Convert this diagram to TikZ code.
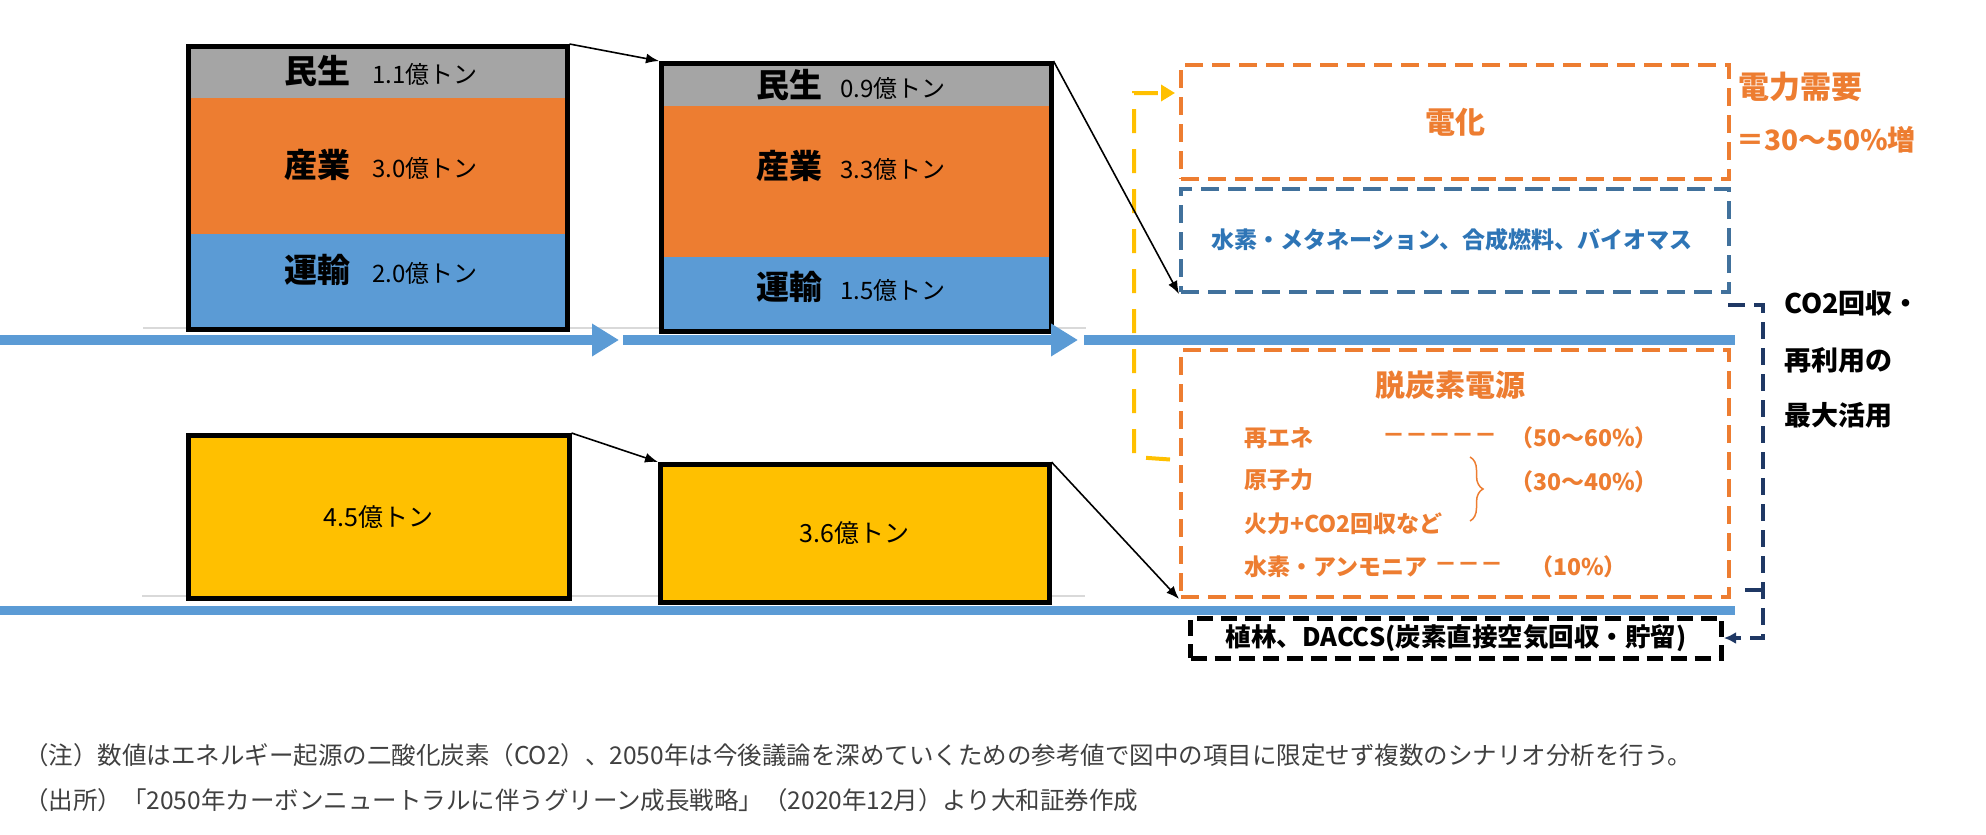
\documentclass[tikz,border=0pt]{standalone}
\usepackage{fontspec}
\setmainfont{Noto Sans CJK JP}
\usetikzlibrary{arrows.meta,calc,decorations.pathreplacing}

\definecolor{civil}{RGB}{165,165,165}
\definecolor{industry}{RGB}{237,125,49}
\definecolor{transport}{RGB}{91,155,213}
\definecolor{power}{RGB}{255,192,0}
\definecolor{fuelline}{RGB}{65,113,156}
\definecolor{fueltext}{RGB}{46,117,182}
\definecolor{navy}{RGB}{31,56,100}
\definecolor{rule}{RGB}{217,217,217}
\definecolor{note}{RGB}{64,64,64}

\begin{document}
\begin{tikzpicture}[x=1pt, y=-1pt, line width=1.6pt,
    >={Latex[length=13pt,width=10pt]},
    frame/.style={draw, line width=4.5pt, inner sep=0pt, anchor=north west},
    sector/.style={font=\fontsize{33}{36}\selectfont\bfseries},
    amount/.style={font=\fontsize{25}{28}\selectfont},
    flow/.style={transport, line width=10pt, -{Triangle[length=27pt,width=31pt]}},
    target/.style={draw, line width=4pt, dash pattern=on 18pt off 9pt, inner sep=0pt},
    orangetext/.style={industry, font=\fontsize{23}{26}\selectfont\bfseries, anchor=west},
    sidetext/.style={font=\fontsize{27}{30}\selectfont\bfseries, anchor=west},
    notetext/.style={note, font=\fontsize{24.5}{28}\selectfont, anchor=west}]
    \useasboundingbox (0,0) rectangle (1986,835);

    % base lines under the bars
    \draw[rule, line width=2pt] (143,328)--(1086,328);
    \draw[rule, line width=2pt] (142,596)--(1085,596);

    % 2013 / 2018 bars, upper row
    \fill[civil] (186,44) rectangle (565,98);
    \fill[industry] (186,98) rectangle (565,234);
    \fill[transport] (186,234) rectangle (565,327);
    \node[frame, minimum width=379pt, minimum height=283pt] (now) at (186,44) {};
    \node[sector] at (381,71) {民生\hspace{22pt}{\mdseries\fontsize{24}{28}\selectfont 1.1億トン}};
    \node[sector] at (381,165) {産業\hspace{22pt}{\mdseries\fontsize{24}{28}\selectfont 3.0億トン}};
    \node[sector] at (381,270) {運輸\hspace{22pt}{\mdseries\fontsize{24}{28}\selectfont 2.0億トン}};

    \fill[civil] (659,61) rectangle (1049,106);
    \fill[industry] (659,106) rectangle (1049,257);
    \fill[transport] (659,257) rectangle (1049,329);
    \node[frame, minimum width=390pt, minimum height=268pt] (later) at (659,61) {};
    \node[sector] at (851,85) {民生\hspace{18pt}{\mdseries\fontsize{24}{28}\selectfont 0.9億トン}};
    \node[sector] at (851,166) {産業\hspace{18pt}{\mdseries\fontsize{24}{28}\selectfont 3.3億トン}};
    \node[sector] at (851,287) {運輸\hspace{18pt}{\mdseries\fontsize{24}{28}\selectfont 1.5億トン}};

    % power sector, lower row
    \node[frame, fill=power, minimum width=381pt, minimum height=163pt] (powernow) at (186,433) {};
    \node[amount] at (powernow.center) {4.5億トン};
    \node[frame, fill=power, minimum width=389pt, minimum height=138pt] (powerlater) at (658,462) {};
    \node[amount] at (powerlater.center) {3.6億トン};

    % 2050 measures
    \node[target, industry, minimum width=548pt, minimum height=114pt, anchor=north west] (denka) at (1179,63) {};
    \node[industry, font=\fontsize{30}{34}\selectfont\bfseries] at (denka.center) {電化};
    \node[target, fuelline, minimum width=548pt, minimum height=103pt, anchor=north west] (fuels) at (1179,187) {};
    \node[fueltext, font=\fontsize{23}{26}\selectfont\bfseries] at (1452,240) {水素・メタネーション、合成燃料、バイオマス};
    \node[target, industry, minimum width=548pt, minimum height=247pt, anchor=north west] (cleanpower) at (1179,348) {};
    \node[industry, font=\fontsize{30}{34}\selectfont\bfseries] at (1450,385) {脱炭素電源};
    \node[orangetext] at (1240,438) {再エネ};
    \node[orangetext] at (1378,438) {－－－－－};
    \node[orangetext] at (1506,438) {（50〜60\%）};
    \node[orangetext] at (1240,480) {原子力};
    \node[orangetext] at (1506,482) {（30〜40\%）};
    \node[orangetext] at (1240,524) {火力+CO2回収など};
    \node[orangetext] at (1240,567) {水素・アンモニア};
    \node[orangetext] at (1430,567) {－－－};
    \node[orangetext] at (1526,567) {（10\%）};
    \draw[industry, line width=1.5pt, decorate, decoration={brace, amplitude=13pt}] (1470,457)--(1470,521);
    \node[draw, line width=5pt, dash pattern=on 16pt off 8pt, minimum width=531pt, minimum height=40pt,
        font=\fontsize{25.5}{28}\selectfont\bfseries] (removal) at (1456,638) {植林、DACCS(炭素直接空気回収・貯留)};

    \node[industry, font=\fontsize{31}{34}\selectfont\bfseries, anchor=west] at (1734,87) {電力需要};
    \node[industry, font=\fontsize{28}{32}\selectfont\bfseries, anchor=west] at (1732,140) {＝30〜50\%増};
    \node[sidetext] at (1780,303) {CO2回収・};
    \node[sidetext] at (1780,360) {再利用の};
    \node[sidetext] at (1780,415) {最大活用};

    % yellow feed into electrification
    \draw[power, line width=4pt, dash pattern=on 24pt off 16pt, -{Triangle[length=14pt,width=16pt]}]
        ($(cleanpower.west)+(-9,-14)$) -- (1134,457) |- ($(denka.north west)+(-4,30)$);

    % time axis
    \coordinate (t0) at (0,340);
    \coordinate (t1) at (619,340);
    \coordinate (t2) at (623,340);
    \coordinate (t3) at (1078,340);
    \coordinate (t4) at (1084,340);
    \coordinate (t5) at (1735,340);
    \draw[flow] (t0)--(t1);
    \draw[flow] (t2)--(t3);
    \draw[transport, line width=10pt] (t4)--(t5);
    \draw[transport, line width=9pt] (0,610)--(1735,610);

    % arrows between the bars
    \draw[->] (now.north east)--(later.north west);
    \draw[->] (later.north east)--(fuels.south west);
    \draw[->] (powernow.north east)--(powerlater.north west);
    \draw[->] (powerlater.north east)--(cleanpower.south west);

    % CO2 capture bracket
    \draw[navy, line width=3.2pt, dash pattern=on 17pt off 9pt, -{Latex[length=12pt,width=12pt]}]
        (1728,305)--(1763,305) |- (removal.east);
    \draw[navy, line width=3.2pt] (1763,590)--(1745,590);

    % notes
    \node[notetext] at (20,755) {（注）数値はエネルギー起源の二酸化炭素（CO2）、2050年は今後議論を深めていくための参考値で図中の項目に限定せず複数のシナリオ分析を行う。};
    \node[notetext] at (20,800) {（出所）「2050年カーボンニュートラルに伴うグリーン成長戦略」（2020年12月）より大和証券作成};
\end{tikzpicture}
\end{document}
